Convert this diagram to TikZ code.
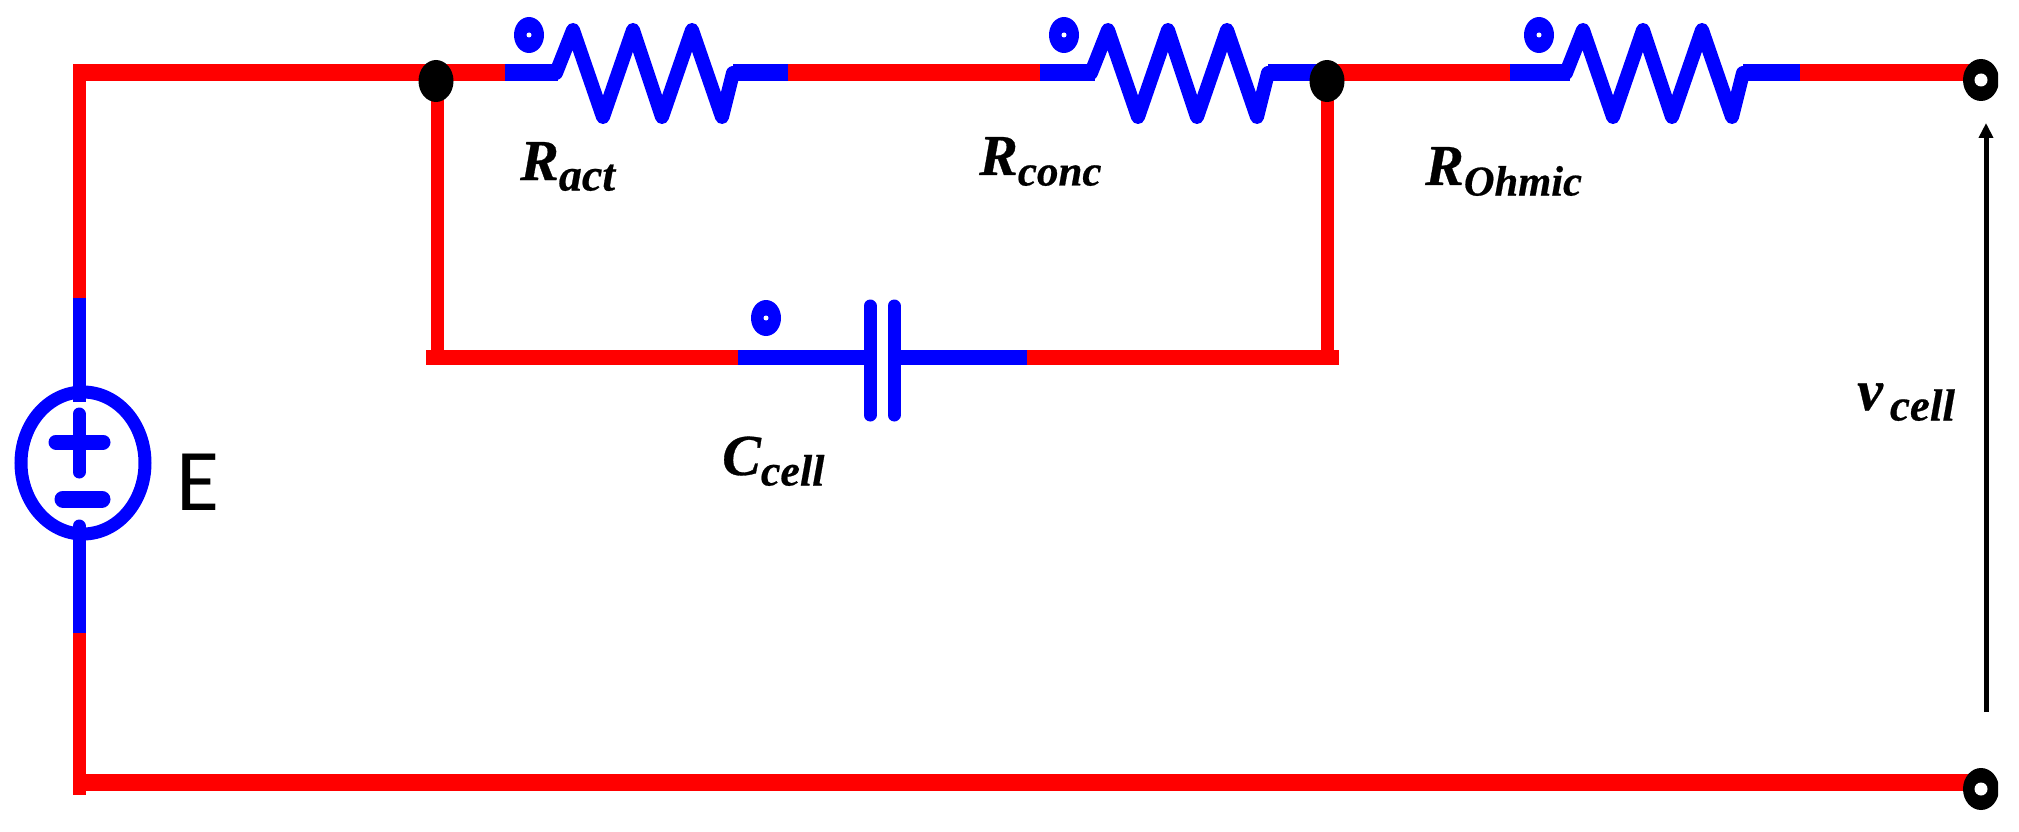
\documentclass[tikz,border=0pt]{standalone}
\usepackage{fontspec}
\setmainfont{Liberation Serif}
\newfontfamily\efont{Carlito}
\newfontfamily\lblfont{Liberation Serif}[BoldItalicFeatures={FakeBold=0.5}]
\usetikzlibrary{shapes.geometric,arrows.meta}
\tikzset{
  x=1pt,y=-1pt,
  redw/.style={draw=red,line width=#1,line cap=butt},
  redw/.default=17,
  bluew/.style={draw=blue,line width=#1,line cap=butt,line join=round},
  bluew/.default=17,
  zig/.style={draw=blue,line width=14,line cap=round,line join=round},
  plate/.style={draw=blue,line width=13,line cap=round},
  polar/.style={ellipse,fill=blue,minimum width=30pt,minimum height=36pt,inner sep=0pt},
  hole/.style={circle,fill=white,minimum size=#1,inner sep=0pt},
  junction/.style={ellipse,fill=black,minimum width=35pt,minimum height=42pt,inner sep=0pt},
  terminal/.style={ellipse,fill=black,minimum width=36pt,minimum height=42pt,inner sep=0pt},
  lbl/.style={anchor=base west,inner sep=0pt,font=\lblfont\bfseries\itshape\fontsize{58}{60}\selectfont,text=black},
}
\newcommand{\subs}[2]{\raisebox{-10.5pt}{\fontsize{#1}{48}\selectfont #2}}
\begin{document}
\begin{tikzpicture}
\useasboundingbox (0,0) rectangle (2019,832);
% coordinates
\coordinate (tl) at (79,73);
\coordinate (lr) at (79,298);
\coordinate (st) at (79,414);
\coordinate (sb) at (79,526);
\coordinate (lb) at (79,633);
\coordinate (bl) at (79,795);
\coordinate (bl2) at (73,782);
\coordinate (br) at (1981,782);
\coordinate (tr) at (1981,73);
\coordinate (j1) at (437,73);
\coordinate (j2) at (1327,73);
\coordinate (cl) at (426,357);
\coordinate (cc1) at (437,357);
\coordinate (cc2) at (1327,357);
\coordinate (cr) at (1339,357);
\coordinate (c1a) at (738,357);
\coordinate (c1b) at (870,357);
\coordinate (c2a) at (894,357);
\coordinate (c2b) at (1027,357);
% resistors
\foreach \dx/\nm/\sa/\se in {0/a/505/558,535/b/1040/1095,1010/c/1510/1570}{
  \begin{scope}[xshift=\dx pt]
    \draw[zig] (556,73) -- (573,30) -- (603,117) -- (633,30) -- (662,117) -- (692,30) -- (722,117) -- (733,73);
    \node[polar] (p\nm) at (529,35) {};
    \node[hole=5pt] at (p\nm) {};
  \end{scope}
  \draw[bluew=17] (\sa,73) -- (\se,73);
}
\draw[bluew=17] (733,73) -- (790,73);
\draw[bluew=17] (1268,73) -- (1327,73);
\draw[bluew=17] (1743,73) -- (1801,73);
% wires
\draw[redw=13] (79,65) -- (lr);
\draw[redw=13] (lb) -- (bl);
\draw[redw=17] (73,73) -- (j1) -- (505,73);
\draw[redw=17] (788,73) -- (1040,73);
\draw[redw=17] (1327,73) -- (1510,73);
\draw[redw=17] (1800,73) -- (tr);
\draw[redw=17] (bl2) -- (br);
\draw[redw=13] (j1) -- (cc1);
\draw[redw=13] (j2) -- (cc2);
\draw[redw=15] (cl) -- (c1a);
\draw[redw=15] (c2b) -- (cr);
% source
\draw[bluew=13] (lr) -- (79,402);
\draw[draw=blue,line width=13,line cap=round] (sb) -- (79,560);
\draw[bluew=13] (79,555) -- (lb);
\draw[draw=blue,line width=13] (83,463) ellipse [x radius=62,y radius=71];
\draw[plate] (st) -- (79,472);
\draw[draw=blue,line width=15,line cap=round] (56,442) -- (103,442);
\draw[draw=blue,line width=17,line cap=round] (63,499) -- (102,499);
\node[anchor=base west,inner sep=0pt,font=\efont\fontsize{88}{90}\selectfont] (E) at (176,510) {E};
% capacitor
\draw[bluew=15] (c1a) -- (c1b);
\draw[bluew=15] (c2a) -- (c2b);
\draw[plate] (870,306) -- (870,415);
\draw[plate] (894,306) -- (894,415);
\node[polar] (pc) at (766,318) {};
\node[hole=5pt] at (pc) {};
% dots
\node[junction] (J1) at (436,81) {};
\node[junction] (J2) at (1327,81) {};
\begin{scope}
  \clip (1900,0) rectangle (1998,832);
  \node[terminal] (T1) at (1981,80) {};
  \node[terminal] (T2) at (1981,789) {};
\end{scope}
\node[hole=13pt] at (1981,80) {};
\node[hole=13pt] at (1981,789) {};
% voltage arrow
\coordinate (va) at (1986,712);
\coordinate (vb) at (1986,123);
\draw[black,line width=5,-{Triangle[length=15pt,width=14pt]}] (va) -- (vb);
% labels
\node[lbl] (Ra) at (520,180) {R\subs{46}{act}};
\node[lbl] (Rc) at (979,175) {R\subs{43}{conc}};
\node[lbl] (Ro) at (1425,185) {R\subs{42.5}{Ohmic}};
\node[lbl] (Cc) at (722,475) {C\subs{44}{cell}};
\node[lbl] (Vc) at (1857,410) {v\kern7pt\subs{45}{cell}};
\end{tikzpicture}
\end{document}
